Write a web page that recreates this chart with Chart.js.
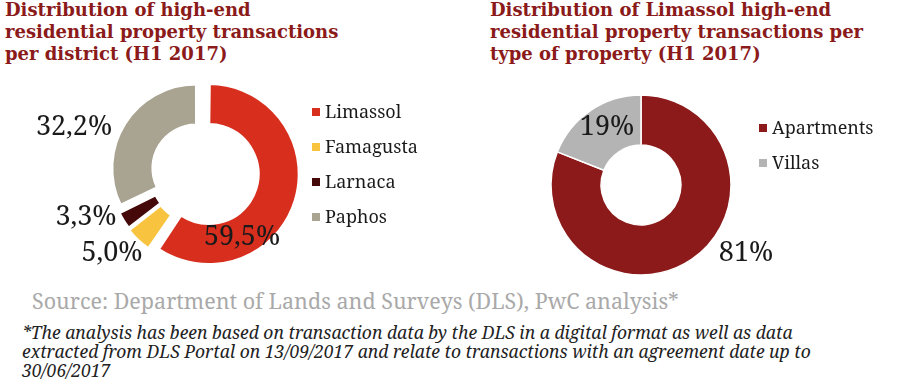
<!DOCTYPE html>
<html>
<head>
<meta charset="utf-8">
<script src="https://cdn.jsdelivr.net/npm/chart.js@4"></script>
<style>
  html, body { margin: 0; padding: 0; background: #fff; }
  body { width: 900px; height: 384px; position: relative; overflow: hidden; font-family: "Noto Serif", serif; }
  .title { position: absolute; color: #8b1a1a; font-family: "DejaVu Serif", serif; font-weight: bold; font-size: 18px; line-height: 22px; white-space: nowrap; }
  .legend { position: absolute; font-size: 18px; color: #1a1a1a; }
  .legend div { height: 35px; line-height: 35px; white-space: nowrap; }
  .legend span.sw { display: inline-block; width: 8px; height: 8px; margin-right: 5px; vertical-align: 2px; }
  canvas { position: absolute; }
  #source { position: absolute; left: 32px; top: 286px; font-size: 21.5px; color: #a9a9a9; white-space: nowrap; }
  #note { position: absolute; left: 22px; top: 323px; font-size: 17.5px; font-style: italic; line-height: 19px; color: #222; white-space: nowrap; }
</style>
</head>
<body>
<div class="title" style="left:5px; top:-1px;">Distribution of high-end<br>residential property transactions<br>per district (H1 2017)</div>
<div class="title" style="left:490px; top:-1px;">Distribution of Limassol high-end<br>residential property transactions per<br>type of property (H1 2017)</div>

<canvas id="c1" width="404" height="200" style="left:0px; top:72px;"></canvas>
<canvas id="c2" width="400" height="200" style="left:441px; top:85px;"></canvas>

<div class="legend" id="leg1" style="left:312px; top:94px;"></div>
<div class="legend" id="leg2" style="left:759px; top:110px;"></div>

<div id="source">Source: Department of Lands and Surveys (DLS), PwC analysis*</div>
<div id="note">*The analysis has been based on transaction data by the DLS in a digital format as well as data<br>extracted from DLS Portal on 13/09/2017 and relate to transactions with an agreement date up to<br>30/06/2017</div>

<script>
// data
const districts = ['Limassol', 'Famagusta', 'Larnaca', 'Paphos'];
const districtShare = [59.5, 5.0, 3.3, 32.2];
const districtColors = ['#d72e1e', '#f8c440', '#450909', '#a9a392'];

const propTypes = ['Apartments', 'Villas'];
const propShare = [81, 19];
const propColors = ['#8c1a1a', '#b4b4b4'];

// label placement, relative to the donut centre
const districtLabelPos = [[40, 65], [-90, 81], [-116, 45], [-128, -45]];
const propLabelPos = [[105, 68], [-34, -58]];

Chart.defaults.font.family = 'Noto Serif';

// draws the percentage texts next to each slice
const pctLabels = {
    id: 'pctLabels',
    afterDatasetsDraw(chart, args, opts) {
        const ctx = chart.ctx;
        const meta = chart.getDatasetMeta(0);
        const vals = chart.data.datasets[0].data;
        ctx.save();
        ctx.font = '27px "Noto Serif"';
        ctx.fillStyle = '#1a1a1a';
        ctx.textAlign = 'center';
        ctx.textBaseline = 'middle';
        meta.data.forEach((arc, i) => {
            const cx = (chart.chartArea.left + chart.chartArea.right) / 2;
            const cy = (chart.chartArea.top + chart.chartArea.bottom) / 2;
            const p = opts.pos[i];
            const txt = opts.decimals ? vals[i].toFixed(1).replace('.', ',') + '%' : vals[i] + '%';
            ctx.fillText(txt, cx + p[0], cy + p[1]);
        });
        ctx.restore();
    }
};

function makeDonut(id, labels, values, colors, cfg) {
    return new Chart(document.getElementById(id), {
        type: 'doughnut',
        data: {
            labels: labels,
            datasets: [{
                data: values,
                backgroundColor: colors,
                borderColor: '#ffffff',
                borderWidth: cfg.border,
                offset: cfg.offset
            }]
        },
        options: {
            responsive: false,
            devicePixelRatio: 1,
            animation: false,
            radius: cfg.radius,
            cutout: cfg.cutout,
            layout: { padding: 0 },
            plugins: {
                legend: { display: false },
                tooltip: { enabled: false },
                pctLabels: { pos: cfg.pos, decimals: cfg.decimals }
            }
        },
        plugins: [pctLabels]
    });
}

function buildLegend(id, labels, colors) {
    document.getElementById(id).innerHTML = labels.map((l, i) =>
        `<div><span class="sw" style="background:${colors[i]}"></span>${l}</div>`
    ).join('');
}

// left chart centre (202,172), right chart centre (641,185)
// chart.js moves an arc by offset/4 px, so these are ~7,6,5,7 px
makeDonut('c1', districts, districtShare, districtColors,
    { radius: 83, cutout: 44, offset: [28, 24, 20, 28], border: 2, pos: districtLabelPos, decimals: true });
makeDonut('c2', propTypes, propShare, propColors,
    { radius: 90, cutout: 44, offset: 0, border: 1.5, pos: propLabelPos, decimals: false });

buildLegend('leg1', districts, districtColors);
buildLegend('leg2', propTypes, propColors);
</script>
</body>
</html>
